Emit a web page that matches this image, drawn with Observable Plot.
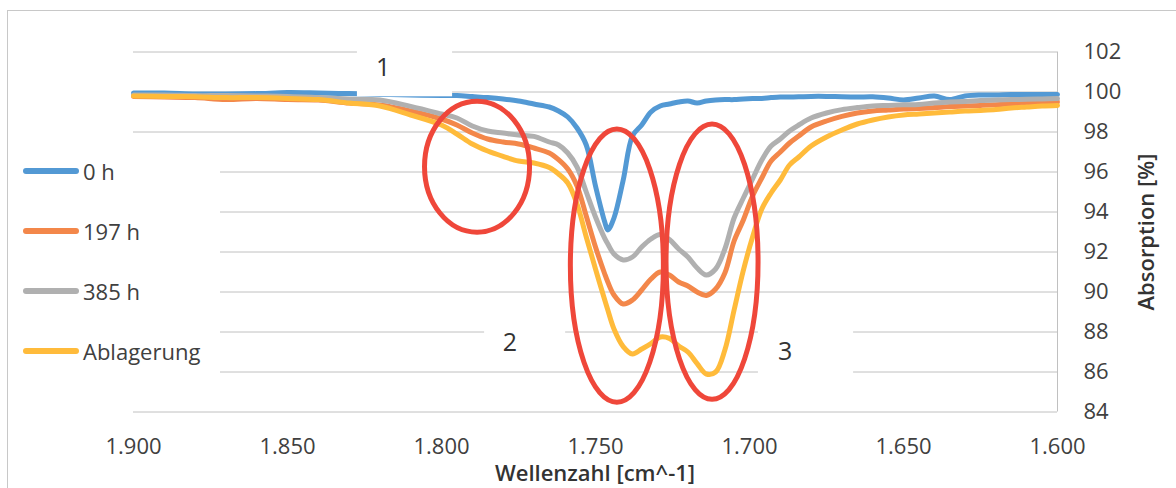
<!DOCTYPE html>
<html><head><meta charset="utf-8">
<script src="https://cdn.jsdelivr.net/npm/d3@7"></script>
<script src="https://cdn.jsdelivr.net/npm/@observablehq/plot@0.6"></script>
<style>
html,body{margin:0;padding:0;background:#fff;}
#chart{width:1176px;height:488px;overflow:hidden;}
</style></head><body><div id="chart"></div>
<script>
const wavenumbers = [1900,1890,1880,1870,1860,1850,1840,1830,1820,1810,1800,
  1795,1790,1785,1780,1775,1770,1765,
  1762,1759,1756,1753,1750,1747,1746,1744,1741,1738,1735,1732,1729,1726,1723,1720,1717,1714,1711,1708,1705,1702,1699,1696,1693,1690,1687,1684,
  1680,
  1675,1670,1665,1660,1655,1650,1645,1640,1635,1630,1625,1620,1615,1610,1605,1600];

const h0 = [99.95,99.95,99.9,99.9,99.92,99.97,99.95,99.92,99.88,99.85,99.83,
  99.82,99.77,99.72,99.65,99.55,99.4,99.25,
  99.05,98.75,98.2,97.35,95.3,93.5,93.1,93.7,95.6,97.8,98.35,99.0,99.3,99.4,99.5,99.55,99.45,99.55,99.6,99.62,99.62,99.65,99.67,99.68,99.72,99.75,99.75,99.76,
  99.78,
  99.78,99.76,99.75,99.76,99.7,99.6,99.7,99.8,99.62,99.8,99.85,99.85,99.88,99.87,99.88,99.88];

const h197 = [99.78,99.75,99.72,99.62,99.68,99.62,99.6,99.45,99.35,99.05,98.65,
  98.35,97.95,97.65,97.5,97.4,97.2,96.95,
  96.62,96.15,95.3,93.8,92.25,90.9,90.5,89.85,89.4,89.6,90.1,90.65,91.0,90.85,90.5,90.3,90.0,89.83,90.15,90.95,92.55,93.6,94.8,95.7,96.55,97.0,97.45,97.8,
  98.25,
  98.55,98.78,98.95,99.05,99.1,99.15,99.18,99.22,99.27,99.3,99.33,99.36,99.4,99.44,99.48,99.5];

const h385 = [99.85,99.85,99.82,99.82,99.8,99.78,99.72,99.65,99.6,99.28,98.9,
  98.7,98.3,98.05,97.95,97.85,97.78,97.5,
  97.35,96.95,96.25,95.0,93.75,92.68,92.4,91.9,91.6,91.75,92.25,92.65,92.88,92.62,92.15,91.75,91.2,90.85,91.15,92.15,93.7,94.7,95.65,96.6,97.3,97.65,98.05,98.35,
  98.7,
  98.95,99.12,99.22,99.3,99.33,99.36,99.38,99.45,99.5,99.52,99.57,99.6,99.62,99.64,99.65,99.67];

const ablagerung = [99.8,99.78,99.76,99.72,99.72,99.68,99.62,99.45,99.3,98.85,98.35,
  97.9,97.4,97.05,96.78,96.55,96.45,96.22,
  95.9,95.45,94.4,92.75,91.15,89.6,89.1,88.15,87.27,86.9,87.15,87.42,87.75,87.68,87.3,87.0,86.42,85.9,86.0,87.1,89.1,91.08,92.75,94.15,94.95,95.6,96.35,96.75,
  97.3,
  97.75,98.1,98.4,98.6,98.75,98.85,98.9,98.95,99.0,99.05,99.08,99.12,99.2,99.25,99.3,99.33];

const seriesNames = ["0 h", "197 h", "385 h", "Ablagerung"];
const seriesValues = [h0, h197, h385, ablagerung];
const seriesColors = ["#5399D4", "#F3874A", "#B0B0B0", "#FFBB3B"];

const xTicks = [1900, 1850, 1800, 1750, 1700, 1650, 1600];
const yTicks = [84, 86, 88, 90, 92, 94, 96, 98, 100, 102];

const xTitle = "Wellenzahl [cm^-1]";
const yTitle = "Absorption [%]";

// annotations (data coordinates)
const annoLabels = ["1", "2", "3"];
const annoLabelW = [1818.8, 1777.6, 1688.3];
const annoLabelV = [101.21, 87.46, 87.04];
const annoBoxW1 = [1827.3, 1786.0, 1697.1];
const annoBoxW2 = [1796.4, 1759.7, 1666.2];
const annoBoxV1 = [99.76, 86.6, 85.2];
const annoBoxV2 = [102.8, 88.7, 88.7];
const ellipseW = [1788.3, 1742.9, 1712.0];
const ellipseV = [96.24, 91.29, 91.49];
const ellipseRW = [17.05, 15.1, 14.94];
const ellipseRV = [3.275, 6.83, 6.88];

const rows = [];
seriesValues.forEach((vals, k) => vals.forEach((v, i) => rows.push({w: wavenumbers[i], v, s: seriesNames[k]})));

const fmtX = d => d3.format(",")(d).replace(/,/g, ".");

const chart = Plot.plot({
  width: 1176, height: 488,
  marginLeft: 133, marginRight: 119, marginTop: 51.5, marginBottom: 76.5,
  x: {domain: [1900, 1600]},
  y: {domain: [84, 102]},
  color: {domain: seriesNames, range: seriesColors},
  style: {fontFamily: "'Open Sans', sans-serif", fontSize: "22px", color: "#404040", background: "#ffffff", overflow: "visible"},
  marks: [
    Plot.gridY(yTicks, {stroke: "#c0c0c0", strokeOpacity: 1, strokeWidth: 1}),
    Plot.ruleX([1600], {y1: 84, y2: 102, stroke: "#c0c0c0", strokeWidth: 1}),
    Plot.axisX(xTicks, {tickSize: 0, tickPadding: 26, tickFormat: fmtX, label: null}),
    Plot.axisY(yTicks, {anchor: "right", tickSize: 0, tickPadding: 26, label: null}),
    Plot.line(rows, {x: "w", y: "v", z: "s", stroke: "s", strokeWidth: 5, curve: "catmull-rom", strokeLinejoin: "round"})
  ]
});
document.getElementById("chart").appendChild(chart);

const sx = chart.scale("x"), sy = chart.scale("y");
const X = sx.apply ? v => sx.apply(v) : d3.scaleLinear(sx.domain, sx.range);
const Y = sy.apply ? v => sy.apply(v) : d3.scaleLinear(sy.domain, sy.range);
const svg = d3.select(chart);
const g = svg.append("g");

// white text boxes (cover gridlines / lines like the original)
annoLabels.forEach((t, i) => {
  const x1 = X(annoBoxW1[i]), x2 = X(annoBoxW2[i]);
  const y1 = Y(annoBoxV1[i]), y2 = Y(annoBoxV2[i]);
  g.append("rect").attr("x", Math.min(x1, x2)).attr("y", Math.min(y1, y2))
    .attr("width", Math.abs(x2 - x1)).attr("height", Math.abs(y2 - y1)).attr("fill", "#fff");
});

// legend background
g.append("rect").attr("x", 15).attr("y", 140).attr("width", 205).attr("height", 245).attr("fill", "#fff");

// red ellipses
ellipseW.forEach((w, i) => {
  const cx = X(w), cy = Y(ellipseV[i]);
  const rx = Math.abs(X(w + ellipseRW[i]) - cx), ry = Math.abs(Y(ellipseV[i] + ellipseRV[i]) - cy);
  g.append("ellipse").attr("cx", cx).attr("cy", cy).attr("rx", rx).attr("ry", ry)
    .attr("fill", "none").attr("stroke", "#EF473A").attr("stroke-width", 5);
});

// annotation numbers
annoLabels.forEach((t, i) => {
  g.append("text").attr("x", X(annoLabelW[i])).attr("y", Y(annoLabelV[i]) + 9)
    .attr("text-anchor", "middle").attr("font-size", 25).attr("fill", "#333").text(t);
});

// legend
seriesNames.forEach((n, i) => {
  const cy = 171 + 60 * i;
  g.append("line").attr("x1", 26).attr("x2", 76).attr("y1", cy).attr("y2", cy)
    .attr("stroke", seriesColors[i]).attr("stroke-width", 6).attr("stroke-linecap", "round");
  g.append("text").attr("x", 83).attr("y", cy + 8.5).attr("text-anchor", "start")
    .attr("font-size", 22).attr("fill", "#404040").text(n);
});

// axis titles
g.append("text").attr("x", 595).attr("y", 481).attr("text-anchor", "middle")
  .attr("font-size", 22).attr("font-weight", 600).attr("fill", "#333").text(xTitle);
g.append("text").attr("transform", "translate(1154,232) rotate(-90)").attr("text-anchor", "middle")
  .attr("font-size", 22).attr("font-weight", 600).attr("fill", "#333").text(yTitle);

// chart area border
g.append("rect").attr("x", 7.5).attr("y", 10.5).attr("width", 1300).attr("height", 700)
  .attr("fill", "none").attr("stroke", "#c8c8c8").attr("stroke-width", 1);
</script></body></html>
